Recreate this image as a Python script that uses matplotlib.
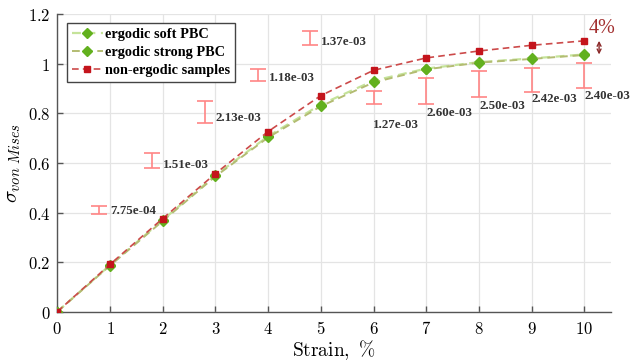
import matplotlib
matplotlib.use("Agg")
import matplotlib.pyplot as plt
import numpy as np

plt.rcParams['mathtext.fontset'] = 'cm'

strain = [0, 1, 2, 3, 4, 5, 6, 7, 8, 9, 10]
soft_pbc = [0, 0.188, 0.370, 0.550, 0.708, 0.836, 0.932, 0.981, 1.007, 1.022, 1.038]
strong_pbc = [0, 0.186, 0.366, 0.546, 0.703, 0.829, 0.925, 0.978, 1.005, 1.020, 1.036]
non_ergodic = [0, 0.191, 0.376, 0.557, 0.727, 0.872, 0.974, 1.024, 1.052, 1.075, 1.093]

err_x = [0.80, 1.80, 2.81, 3.80, 4.80, 6.0, 7.0, 8.0, 9.0, 10.0]
err_center = [0.411, 0.611, 0.805, 0.955, 1.103, 0.866, 0.891, 0.919, 0.934, 0.953]
err_half = [0.016, 0.031, 0.045, 0.023, 0.028, 0.026, 0.052, 0.051, 0.049, 0.049]
err_labels = ['7.75e-04', '1.51e-03', '2.13e-03', '1.18e-03', '1.37e-03',
              '1.27e-03', '2.60e-03', '2.50e-03', '2.42e-03', '2.40e-03']
label_x = [1.01, 2.01, 3.01, 4.02, 5.01, 5.98, 7.0, 8.01, 8.99, 10.0]
label_y = [0.408, 0.592, 0.780, 0.944, 1.087, 0.753, 0.803, 0.830, 0.857, 0.872]

xticks = [0, 1, 2, 3, 4, 5, 6, 7, 8, 9, 10]
yticks = [0, 0.2, 0.4, 0.6, 0.8, 1.0, 1.2]
ytick_labels = ['0', '0.2', '0.4', '0.6', '0.8', '1', '1.2']

fig = plt.figure(figsize=(6.31, 3.64), dpi=100)
ax = fig.add_axes([0.0908, 0.1437, 0.877, 0.817])

ax.set_xlim(0, 10.5)
ax.set_ylim(0, 1.2)
ax.grid(True, color='#e4e4e4', linewidth=0.9)
ax.set_axisbelow(True)
for s in ['top', 'right']:
    ax.spines[s].set_visible(False)
for s in ['left', 'bottom']:
    ax.spines[s].set_color('#555555')
    ax.spines[s].set_linewidth(1.0)

ax.errorbar(err_x, err_center, yerr=err_half, fmt='none', ecolor='#ff8585',
            elinewidth=1.2, capsize=5.5, capthick=1.2, zorder=2)

ax.plot(strain, soft_pbc, linestyle=(0, (4, 2.5)), color='#c5e39a', linewidth=1.6,
        marker='D', markersize=5, markerfacecolor='#62b01e', markeredgecolor='#62b01e',
        label='ergodic soft PBC', zorder=3)
ax.plot(strain, strong_pbc, linestyle=(0, (4, 2.5)), color='#b3bc72', linewidth=1.4,
        marker='D', markersize=5, markerfacecolor='#62b01e', markeredgecolor='#62b01e',
        label='ergodic strong PBC', zorder=3)
ax.plot(strain, non_ergodic, linestyle=(0, (4, 2.5)), color='#cc4a4a', linewidth=1.2,
        marker='s', markersize=4.5, markerfacecolor='#c4141c', markeredgecolor='#c4141c',
        label='non-ergodic samples', zorder=4)

for lx, ly, lab in zip(label_x, label_y, err_labels):
    ax.text(lx, ly, lab, fontsize=9.3, family='Liberation Serif',
            color='#333333', ha='left', va='center', fontweight='bold')

ax.annotate('', xy=(10.28, non_ergodic[-1]), xytext=(10.28, soft_pbc[-1]),
            arrowprops=dict(arrowstyle='<->', color='#8b2a2a', lw=1.0,
                            shrinkA=0, shrinkB=0, mutation_scale=7))
ax.text(10.33, 1.142, '4%', fontsize=14.5, family='Liberation Serif',
        color='#a33030', ha='center', va='center')

ax.set_xticks(xticks)
ax.set_xticklabels([r'$%d$' % v for v in xticks], fontsize=12)
ax.set_yticks(yticks)
ax.set_yticklabels([r'$%s$' % t for t in ytick_labels], fontsize=12)
ax.tick_params(direction='in', length=4, width=1.0, color='#555555', pad=5)
ax.tick_params(axis='x', pad=6)

ax.set_xlabel(r'$\mathrm{Strain,\ \%}$', fontsize=14, labelpad=0)
ax.set_ylabel(r'$\sigma_{von\ Mises}$', fontsize=15, labelpad=3)

leg = ax.legend(loc='upper left', bbox_to_anchor=(0.017, 0.972),
                prop={'family': 'Liberation Serif', 'size': 10.3, 'weight': 'bold'},
                frameon=True, fancybox=False, edgecolor='#444444', framealpha=1,
                handlelength=2.2, handletextpad=0.15, borderpad=0.35, labelspacing=0.35,
                borderaxespad=0)
leg.get_frame().set_linewidth(1.0)

fig.savefig('out.png', dpi=100)
